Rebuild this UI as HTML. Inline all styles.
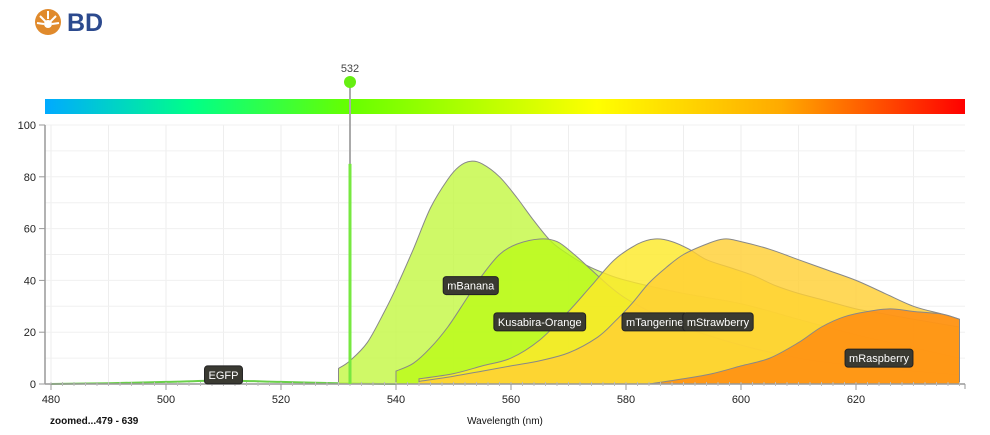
<!DOCTYPE html>
<html><head><meta charset="utf-8"><style>
body{margin:0;background:#fff;width:990px;height:435px;overflow:hidden;font-family:"Liberation Sans",sans-serif}
svg{display:block}
</style></head><body>
<svg width="990" height="435">
<defs>
<linearGradient id="spec" x1="0" x2="1" y1="0" y2="0">
<stop offset="0" stop-color="#00aaff"/><stop offset="0.16" stop-color="#00ff88"/>
<stop offset="0.33" stop-color="#66ff00"/><stop offset="0.6" stop-color="#ffff00"/>
<stop offset="0.8" stop-color="#ffaa00"/><stop offset="1" stop-color="#ff0000"/>
</linearGradient>
</defs>
<g>
<circle cx="48" cy="22" r="13" fill="#e08a2c"/>
<circle cx="48" cy="24" r="4" fill="#fff"/>
<path d="M40 16 L46 22 M56 16 L50 22 M48 11 L48 19 M37 23 L44 24 M59 23 L52 24" stroke="#fff" stroke-width="2"/>
<text x="67" y="31" font-size="25" fill="#2c4a8e" font-weight="bold">BD</text>
</g>
<rect x="45" y="99" width="920" height="15" fill="url(#spec)"/>
<g id="grid"></g>
<g id="series"></g>
<g id="axes"></g>
<g id="laser"></g>
<g id="labels"></g>
<text x="50" y="424" font-size="10" font-weight="bold" fill="#111">zoomed...479 - 639</text>
<text x="505" y="424" font-size="10" fill="#111" text-anchor="middle">Wavelength (nm)</text>
</svg>
<script>
const xTicks=[480,500,520,540,560,580,600,620];
const yTicks=[0,20,40,60,80,100];
const laserNm=532;
const laserHeight=85;
const seriesNames=["mBanana","Kusabira-Orange","mTangerine","mStrawberry","mRaspberry"];
const seriesColors=["#c4f845","#bbfa1a","#fde92a","#ffcf35","#ff8a10"];
const mBananaWl=[530,530,532,535,538,540,543,546,549,551,553,555,558,561,564,567,570,573,576,580,590,600,610,620,630,638,638];
const mBananaVal=[0,6,9,16,28,37,52,68,79,84,86,85,80,72,63,55,50,46,43,40,35,31,25,19,14,10,0];
const kusabiraWl=[540,540,543,546,549,552,555,558,561,565,568,571,574,577,580,585,590,600,610,620,630,638,638];
const kusabiraVal=[0,5,8,14,22,32,42,50,54,56,55,50,44,38,33,27,22,15,10,7,5,3.5,0];
const mTangerineWl=[544,544,550,555,560,565,570,574,578,582,585,588,591,594,598,602,606,610,615,620,625,630,638,638];
const mTangerineVal=[0,2,4,7,10,17,28,38,48,54,56,55,52,48,45,42,38,35,32,29,27,25,22,0];
const mStrawberryWl=[544,544,550,555,560,565,570,575,578,581,584,587,590,594,597,600,605,610,615,620,625,630,635,638,638];
const mStrawberryVal=[0,1,3,5,7,9,12,18,24,31,39,45,50,54,56,55,52,48,44,40,35,30,27,25,0];
const mRaspberryWl=[584,590,595,600,605,610,614,618,622,626,630,635,638,638];
const mRaspberryVal=[0,2,4,7,10,16,22,26,28,29,28,27,25,0];
const egfpWl=[480,490,500,510,520,530,540];
const egfpVal=[0,0.3,0.8,1.3,0.8,0.3,0];
const labelNm=[510,553,565,585,596,624];
const labelVal=[3.5,38,24,24,24,10];
const labelText=["EGFP","mBanana","Kusabira-Orange","mTangerine","mStrawberry","mRaspberry"];

const NS="http://www.w3.org/2000/svg";
const X=nm=>51+(nm-480)*5.75;
const Y=v=>384-v*2.59;
function mk(tag,attrs,parent){const e=document.createElementNS(NS,tag);for(const k in attrs)e.setAttribute(k,attrs[k]);parent.appendChild(e);return e;}
function smooth(pts){
 let d='';
 for(let i=0;i<pts.length-1;i++){
  const p0=pts[Math.max(0,i-1)],p1=pts[i],p2=pts[i+1],p3=pts[Math.min(pts.length-1,i+2)];
  const c1=[p1[0]+(p2[0]-p0[0])/6,p1[1]+(p2[1]-p0[1])/6];
  const c2=[p2[0]-(p3[0]-p1[0])/6,p2[1]-(p3[1]-p1[1])/6];
  d+=' C'+c1.map(v=>v.toFixed(1)).join(' ')+' '+c2.map(v=>v.toFixed(1)).join(' ')+' '+p2[0].toFixed(1)+' '+p2[1].toFixed(1);
 }
 return d;
}
const grid=document.getElementById('grid'),axes=document.getElementById('axes'),ser=document.getElementById('series'),las=document.getElementById('laser'),lab=document.getElementById('labels');
for(let nm=480;nm<=639;nm+=10){const l=mk('line',{x1:X(nm),x2:X(nm),y1:125,y2:384,stroke:'#eee'},grid);

}
for(let v=0;v<=100;v+=10){const l=mk('line',{x1:45,x2:965,y1:Y(v),y2:Y(v),stroke:'#f0f0f0'},grid);

}
const allWl=[egfpWl,mBananaWl,kusabiraWl,mTangerineWl,mStrawberryWl,mRaspberryWl];
const allVal=[egfpVal,mBananaVal,kusabiraVal,mTangerineVal,mStrawberryVal,mRaspberryVal];
const cols=["#6ad04a"].concat(seriesColors);
const names=["egfp"].concat(seriesNames.map(s=>s.toLowerCase()));
allWl.forEach((wl,i)=>{
 const pts=wl.map((w,j)=>[X(w),Y(allVal[i][j])]);
 let d;
 if(i===0){d='M'+pts[0].join(' ')+smooth(pts);}
 else{
  let s=0,e=pts.length;
  if(wl[0]===wl[1])s=1;
  if(wl[e-1]===wl[e-2])e=e-1;
  const core=pts.slice(s,e);
  d='M'+pts[0][0].toFixed(1)+' '+pts[0][1].toFixed(1)+' L'+core[0][0].toFixed(1)+' '+core[0][1].toFixed(1)+smooth(core)+' L'+pts[pts.length-1][0].toFixed(1)+' '+pts[pts.length-1][1].toFixed(1)+'Z';
 }
 const p=mk('path',{d:d,fill:i?cols[i]:'none',"fill-opacity":i?0.82:1,stroke:i?'#888':'#6ad04a','stroke-width':i?1:2},ser);
 
 
});
mk('line',{x1:45,x2:45,y1:125,y2:384,stroke:'#999','stroke-width':1.5},axes);
mk('line',{x1:45,x2:965,y1:384,y2:384,stroke:'#999','stroke-width':1.5},axes);
mk('line',{x1:965,x2:965,y1:384,y2:389,stroke:'#999'},axes);
for(let nm=480;nm<=638;nm+=2)mk('line',{x1:X(nm),x2:X(nm),y1:382,y2:386,stroke:'#bbb'},axes);
xTicks.forEach(t=>{mk('line',{x1:X(t),x2:X(t),y1:384,y2:390,stroke:'#999'},axes);
 const tx=mk('text',{x:X(t),y:403,'font-size':11,'text-anchor':'middle',fill:'#222'},axes);tx.textContent=t;
 
 });
yTicks.forEach(t=>{mk('line',{x1:39,x2:45,y1:Y(t),y2:Y(t),stroke:'#999'},axes);
 const tx=mk('text',{x:36,y:Y(t)+4,'font-size':11,'text-anchor':'end',fill:'#222'},axes);tx.textContent=t;
 
 });
mk('line',{x1:X(laserNm),x2:X(laserNm),y1:82,y2:384,stroke:'#aaa','stroke-width':2},las);
const lb=mk('rect',{x:X(laserNm)-1.5,y:Y(laserHeight),width:3,height:384-Y(laserHeight),fill:'#77e840'},las);


const lc=mk('circle',{cx:X(laserNm),cy:82,r:6,fill:'#66ee11'},las);


const lt=mk('text',{x:X(laserNm),y:72,'font-size':11,'text-anchor':'middle',fill:'#444'},las);lt.textContent=laserNm;


labelText.forEach((s,i)=>{
 const g=mk('g',{},lab);
 
 
 const t=mk('text',{x:X(labelNm[i]),y:Y(labelVal[i])+4,'font-size':11,'text-anchor':'middle',fill:'#fff'},g);t.textContent=s;
 const w=t.getComputedTextLength()+8;
 const r=mk('rect',{x:X(labelNm[i])-w/2,y:Y(labelVal[i])-9,width:w,height:18,rx:3,fill:'#3a3a32',stroke:'#222'},g);
 g.insertBefore(r,t);
});
</script>
</body></html>
